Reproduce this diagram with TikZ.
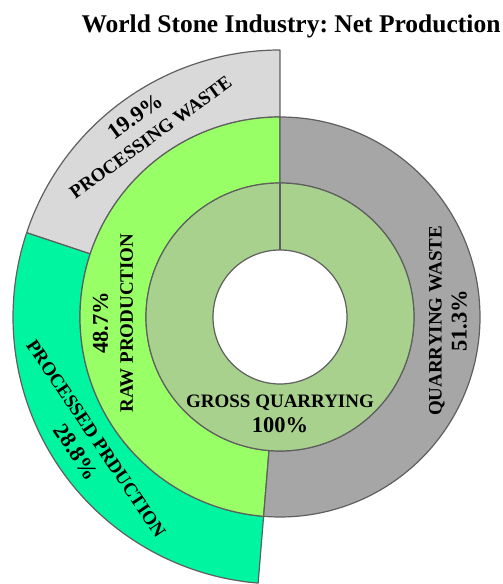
\documentclass[tikz,border=0pt]{standalone}
\usepackage{fontspec}
\setmainfont{Liberation Serif}
\usetikzlibrary{positioning}
\frenchspacing
\definecolor{Quarrying}{RGB}{169, 209, 142}
\definecolor{RawProd}{RGB}{153, 255, 102}
\definecolor{QuarryWaste}{RGB}{166, 166, 166}
\definecolor{ProcWaste}{RGB}{217, 217, 217}
\definecolor{Processed}{RGB}{0, 245, 160}
\definecolor{Edge}{RGB}{95, 95, 95}

% ring piece: style, inner radius, outer radius, start angle, end angle
\newcommand{\ringpart}[5]{%
  \draw[#1] (#4:#2) arc[start angle=#4, end angle=#5, radius=#2]
    -- (#5:#3) arc[start angle=#5, end angle=#4, radius=#3] -- cycle;}
% share values are set a bit larger
\newcommand{\pct}[1]{{\fontsize{22.5}{25}\selectfont #1\%}}

\tikzset{
  piece/.style={draw=Edge, line width=1.2pt, line join=round},
  seglabel/.style={align=center, inner sep=0pt,
    font=\bfseries\fontsize{19}{25}\selectfont}
}

\begin{document}
\begin{tikzpicture}
            \useasboundingbox (-280pt,-267pt) rectangle (223pt,317pt);

            % outer ring
            \ringpart{piece, fill=ProcWaste}{200pt}{267pt}{90}{161.6}
            \ringpart{piece, fill=Processed}{200pt}{267pt}{161.6}{265.3}

            % middle ring
            \ringpart{piece, fill=RawProd}{134pt}{200pt}{90}{265.3}
            \ringpart{piece, fill=QuarryWaste}{134pt}{200pt}{-94.7}{90}

            % inner ring
            \draw[piece, fill=Quarrying, even odd rule] (0,0) circle (134pt) (0,0) circle (67pt);
            \draw[piece] (90:67pt) -- (90:134pt);

            \node (title) at (11pt,284pt) [anchor=base, font=\bfseries\fontsize{25.5}{30}\selectfont] {World Stone Industry: Net Production};

            \node (pwaste) at (125.8:235pt) [seglabel, rotate=36] {\pct{19.9}\\PROCESSING WASTE};
            \node (processed) at (213.5:233pt) [seglabel, rotate=-56] {PROCESSED PRDUCTION\\\pct{28.8}};
            \node (raw) at (-167pt,-6pt) [seglabel, rotate=90] {\pct{48.7}\\RAW PRODUCTION};
            \node (qwaste) at (168pt,-4pt) [seglabel, rotate=90] {QUARRYING WASTE\\\pct{51.3}};
            \node (gross) at (0pt,-97pt) [seglabel] {GROSS QUARRYING\\\pct{100}};
        \end{tikzpicture}
\end{document}
